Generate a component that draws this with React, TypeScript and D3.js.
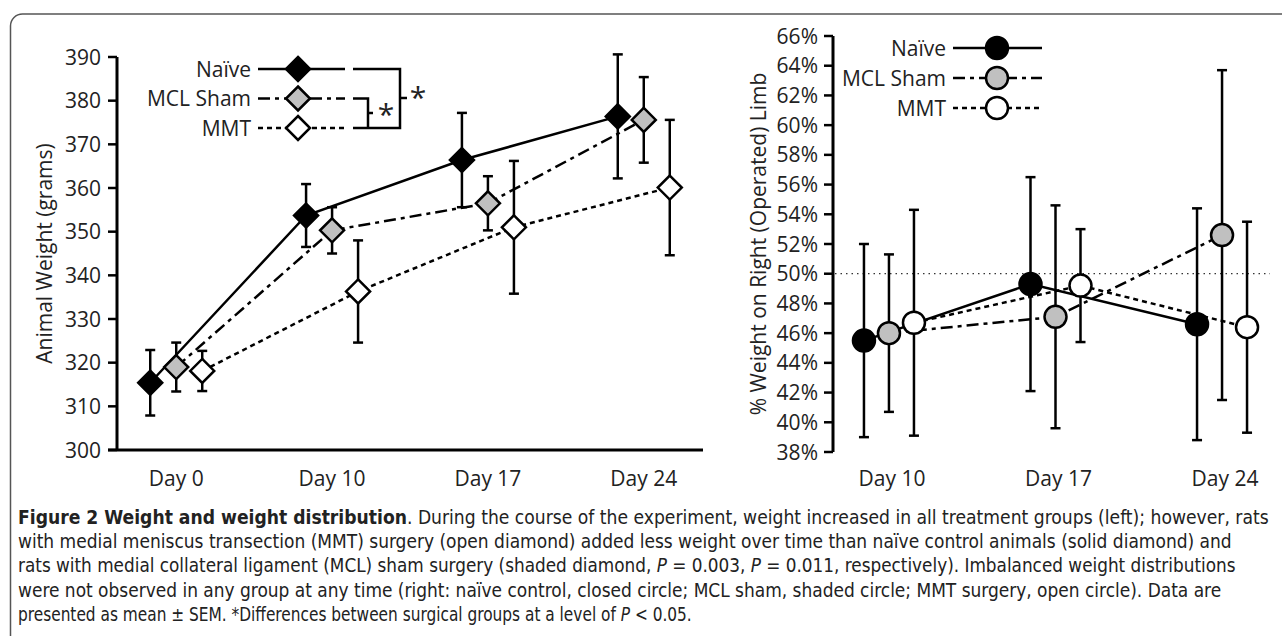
import React, { useLayoutEffect, useRef } from "react";
import * as d3 from "d3";

// left panel: body weight
const leftDays = ["Day 0", "Day 10", "Day 17", "Day 24"];
const weightTicks = [300, 310, 320, 330, 340, 350, 360, 370, 380, 390];
const weightNaive = [315.4, 353.7, 366.4, 376.4];
const weightNaiveErr = [7.5, 7.2, 10.8, 14.2];
const weightSham = [319.0, 350.3, 356.5, 375.6];
const weightShamErr = [5.6, 5.3, 6.2, 9.8];
const weightMMT = [318.1, 336.3, 351.0, 360.1];
const weightMMTErr = [4.6, 11.7, 15.2, 15.5];

// right panel: weight distribution
const rightDays = ["Day 10", "Day 17", "Day 24"];
const pctTicks = [38, 40, 42, 44, 46, 48, 50, 52, 54, 56, 58, 60, 62, 64, 66];
const distNaive = [45.5, 49.3, 46.6];
const distNaiveErr = [6.5, 7.2, 7.8];
const distSham = [46.0, 47.1, 52.6];
const distShamErr = [5.3, 7.5, 11.1];
const distMMT = [46.7, 49.2, 46.4];
const distMMTErr = [7.6, 3.8, 7.1];

const groupNames = ["Naïve", "MCL Sham", "MMT"];
const groupFill = ["#000000", "#c0c0c0", "#ffffff"];
const groupDash = [null, "12,5,4,5", "5,4"];
const groupOffset = [-26, 0, 26];

const FONT = "'Open Sans', sans-serif";
const CAP_FONT = "'DejaVu Sans Condensed', 'Liberation Sans Narrow', 'DejaVu Sans', sans-serif";

const diamond = (x: number, y: number, r: number) =>
  `M${x},${y - r}L${x + r},${y}L${x},${y + r}L${x - r},${y}Z`;

function LeftPanel() {
  const x = d3.scalePoint().domain(leftDays).range([117, 703]).padding(0.38);
  const y = d3.scaleLinear().domain([300, 390]).range([450, 57]);
  const series = [
    { v: weightNaive, e: weightNaiveErr },
    { v: weightSham, e: weightShamErr },
    { v: weightMMT, e: weightMMTErr },
  ];
  const line = d3.line<[number, number]>();

  return (
    <g>
      {/* y axis */}
      <line x1={117} x2={117} y1={y(390)} y2={y(300)} stroke="#000" strokeWidth={3} />
      {weightTicks.map(t => (
        <g key={t}>
          <line x1={108} x2={117} y1={y(t)} y2={y(t)} stroke="#000" strokeWidth={2.5} />
          <text x={101} y={y(t)} dy="0.36em" textAnchor="end" fontSize={21} fontFamily={FONT} fill="#222">{t}</text>
        </g>
      ))}
      <line x1={108} x2={703} y1={y(300)} y2={y(300)} stroke="#000" strokeWidth={3} />
      {leftDays.map(d => (
        <text key={d} x={x(d)} y={486} textAnchor="middle" fontSize={21} fontFamily={FONT} fill="#222">{d}</text>
      ))}
      <text transform={`translate(44,${(y(390) + y(300)) / 2}) rotate(-90)`} textAnchor="middle" dy="0.36em"
        fontSize={21} fontFamily={FONT} fill="#222">Animal Weight (grams)</text>

      {/* error bars */}
      {series.map((s, gi) => s.v.map((v, i) => {
        const cx = (x(leftDays[i]) as number) + groupOffset[gi];
        return (
          <g key={`e${gi}-${i}`} stroke="#000" strokeWidth={2.5}>
            <line x1={cx} x2={cx} y1={y(v - s.e[i])} y2={y(v + s.e[i])} />
            <line x1={cx - 5} x2={cx + 5} y1={y(v + s.e[i])} y2={y(v + s.e[i])} />
            <line x1={cx - 5} x2={cx + 5} y1={y(v - s.e[i])} y2={y(v - s.e[i])} />
          </g>
        );
      }))}
      {/* lines */}
      {series.map((s, gi) => (
        <path key={`l${gi}`} fill="none" stroke="#000" strokeWidth={2.5}
          strokeDasharray={groupDash[gi] ?? undefined}
          d={line(s.v.map((v, i) => [(x(leftDays[i]) as number) + groupOffset[gi], y(v)])) ?? ""} />
      ))}
      {/* markers */}
      {series.map((s, gi) => s.v.map((v, i) => (
        <path key={`m${gi}-${i}`} d={diamond((x(leftDays[i]) as number) + groupOffset[gi], y(v), 12)}
          fill={groupFill[gi]} stroke="#000" strokeWidth={2.5} strokeLinejoin="miter" />
      )))}

      {/* legend */}
      {groupNames.map((n, gi) => {
        const ly = 69 + gi * 29.5;
        return (
          <g key={n}>
            <text x={251} y={ly} dy="0.36em" textAnchor="end" fontSize={21} fontFamily={FONT} fill="#222">{n}</text>
            <line x1={258} x2={345} y1={ly} y2={ly} stroke="#000" strokeWidth={2.5}
              strokeDasharray={groupDash[gi] ?? undefined} />
            <path d={diamond(298, ly, 12)} fill={groupFill[gi]} stroke="#000" strokeWidth={2.5} />
          </g>
        );
      })}
      {/* significance brackets */}
      <g stroke="#000" strokeWidth={2.5} fill="none">
        <path d="M353,69H400V128H353" />
        <path d="M400,98H407" />
        <path d="M353,98.5H368V128" />
        <path d="M368,113H373" />
      </g>
      <text x={418} y={108} textAnchor="middle" fontSize={30} fontFamily={FONT} fill="#222">*</text>
      <text x={386} y={125} textAnchor="middle" fontSize={30} fontFamily={FONT} fill="#222">*</text>
    </g>
  );
}

function RightPanel() {
  const x = d3.scalePoint().domain(rightDays).range([833, 1278]).padding(0.336);
  const y = d3.scaleLinear().domain([38, 66]).range([452, 36]);
  const series = [
    { v: distNaive, e: distNaiveErr },
    { v: distSham, e: distShamErr },
    { v: distMMT, e: distMMTErr },
  ];
  const offs = [-25, 0, 25];
  const line = d3.line<[number, number]>();

  return (
    <g>
      <line x1={833} x2={833} y1={y(66)} y2={y(38)} stroke="#000" strokeWidth={3} />
      {pctTicks.map(t => (
        <g key={t}>
          <line x1={824} x2={833} y1={y(t)} y2={y(t)} stroke="#000" strokeWidth={2.5} />
          <text x={818} y={y(t)} dy="0.36em" textAnchor="end" fontSize={21} fontFamily={FONT} fill="#222">{t}%</text>
        </g>
      ))}
      <line x1={835} x2={1270} y1={y(50)} y2={y(50)} stroke="#000" strokeWidth={1} strokeDasharray="1.5,4" />
      {rightDays.map(d => (
        <text key={d} x={(x(d) as number) + 3} y={486} textAnchor="middle" fontSize={21} fontFamily={FONT} fill="#222">{d}</text>
      ))}
      <text transform={`translate(758,${(y(66) + y(38)) / 2}) rotate(-90)`} textAnchor="middle" dy="0.36em"
        fontSize={21} fontFamily={FONT} fill="#222">% Weight on Right (Operated) Limb</text>

      {series.map((s, gi) => s.v.map((v, i) => {
        const cx = (x(rightDays[i]) as number) + offs[gi];
        return (
          <g key={`e${gi}-${i}`} stroke="#000" strokeWidth={2.5}>
            <line x1={cx} x2={cx} y1={y(v - s.e[i])} y2={y(v + s.e[i])} />
            <line x1={cx - 5} x2={cx + 5} y1={y(v + s.e[i])} y2={y(v + s.e[i])} />
            <line x1={cx - 5} x2={cx + 5} y1={y(v - s.e[i])} y2={y(v - s.e[i])} />
          </g>
        );
      }))}
      {series.map((s, gi) => (
        <path key={`l${gi}`} fill="none" stroke="#000" strokeWidth={2.5}
          strokeDasharray={groupDash[gi] ?? undefined}
          d={line(s.v.map((v, i) => [(x(rightDays[i]) as number) + offs[gi], y(v)])) ?? ""} />
      ))}
      {series.map((s, gi) => s.v.map((v, i) => (
        <circle key={`m${gi}-${i}`} cx={(x(rightDays[i]) as number) + offs[gi]} cy={y(v)} r={11}
          fill={groupFill[gi]} stroke="#000" strokeWidth={2.5} />
      )))}

      {groupNames.map((n, gi) => {
        const ly = 48 + gi * 30;
        return (
          <g key={n}>
            <text x={946} y={ly} dy="0.36em" textAnchor="end" fontSize={21} fontFamily={FONT} fill="#222">{n}</text>
            <line x1={953} x2={1042} y1={ly} y2={ly} stroke="#000" strokeWidth={2.5}
              strokeDasharray={groupDash[gi] ?? undefined} />
            <circle cx={997} cy={ly} r={11} fill={groupFill[gi]} stroke="#000" strokeWidth={2.5} />
          </g>
        );
      })}
    </g>
  );
}

type Part = { t: string; b?: boolean; i?: boolean };

// each caption line is squeezed horizontally to the width it has in the figure
function CaptionLine({ y, w, parts }: { y: number; w: number; parts: Part[] }) {
  const ref = useRef<SVGTextElement>(null);
  useLayoutEffect(() => {
    const node = ref.current;
    if (!node) return;
    const natural = node.getComputedTextLength();
    const s = natural > 0 ? w / natural : 1;
    d3.select(node).attr("transform", `translate(18,${y}) scale(${s},1)`);
  }, [y, w]);
  return (
    <text ref={ref} x={0} y={0} transform={`translate(18,${y})`} fontSize={19.5} fontFamily={CAP_FONT} fill="#222">
      {parts.map((p, pi) => (
        <tspan key={pi} fontWeight={p.b ? "bold" : "normal"} fontStyle={p.i ? "italic" : "normal"}>{p.t}</tspan>
      ))}
    </text>
  );
}

const captionLines: { w: number; parts: Part[] }[] = [
  { w: 1252, parts: [
    { t: "Figure 2 Weight and weight distribution", b: true },
    { t: ". During the course of the experiment, weight increased in all treatment groups (left); however, rats" },
  ] },
  { w: 1215, parts: [
    { t: "with medial meniscus transection (MMT) surgery (open diamond) added less weight over time than naïve control animals (solid diamond) and" },
  ] },
  { w: 1218, parts: [
    { t: "rats with medial collateral ligament (MCL) sham surgery (shaded diamond, " },
    { t: "P", i: true }, { t: " = 0.003, " }, { t: "P", i: true },
    { t: " = 0.011, respectively). Imbalanced weight distributions" },
  ] },
  { w: 1204, parts: [
    { t: "were not observed in any group at any time (right: naïve control, closed circle; MCL sham, shaded circle; MMT surgery, open circle). Data are" },
  ] },
  { w: 674, parts: [
    { t: "presented as mean ± SEM. *Differences between surgical groups at a level of " },
    { t: "P", i: true }, { t: "\u00a0< 0.05." },
  ] },
];

export default function App() {
  return (
    <svg width={1282} height={636} viewBox="0 0 1282 636"
      style={{ position: "absolute", left: 0, top: 0, background: "#fff", display: "block" }}>
      <rect x={0} y={0} width={1282} height={636} fill="#fff" />
      <path d="M10.5,640V26A12,12 0 0 1 22.5,14H1290" fill="none" stroke="#555" strokeWidth={1.5} />
      <LeftPanel />
      <RightPanel />
      {captionLines.map((l, li) => (
        <CaptionLine key={li} y={524 + li * 24.2} w={l.w} parts={l.parts} />
      ))}
    </svg>
  );
}
